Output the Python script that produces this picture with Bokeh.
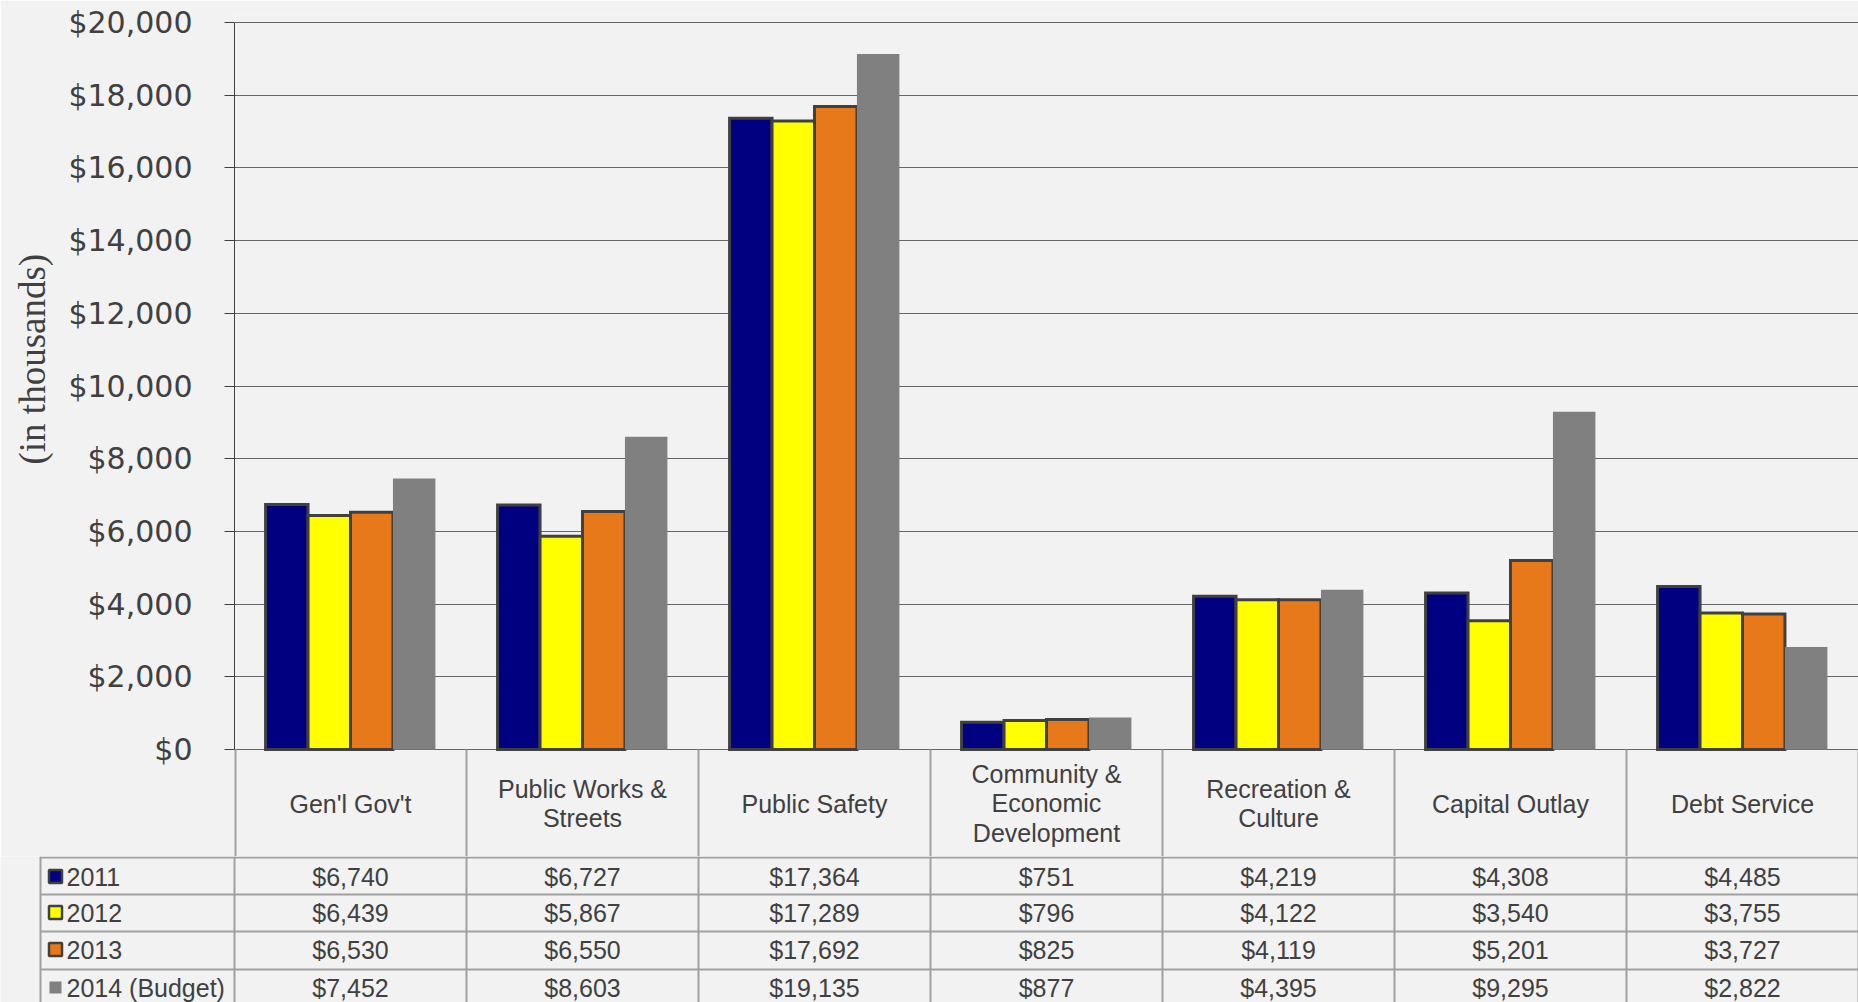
from bokeh.plotting import figure
from bokeh.layouts import column
from bokeh.models import ColumnDataSource, FactorRange, Range1d, FixedTicker, NumeralTickFormatter, Title
from bokeh.transform import dodge
from bokeh.core.properties import value
from bokeh.embed import file_html
from bokeh.resources import INLINE

# ---------------- data ----------------
categories = ["Gen'l Gov't", "Public Works & Streets", "Public Safety",
              "Community & Economic Development", "Recreation & Culture",
              "Capital Outlay", "Debt Service"]
header_labels = ["Gen'l Gov't", "Public Works &\nStreets", "Public Safety",
                 "Community &\nEconomic\nDevelopment", "Recreation &\nCulture",
                 "Capital Outlay", "Debt Service"]
series_names = ["2011", "2012", "2013", "2014 (Budget)"]
v2011 = [6740, 6727, 17364, 751, 4219, 4308, 4485]
v2012 = [6439, 5867, 17289, 796, 4122, 3540, 3755]
v2013 = [6530, 6550, 17692, 825, 4119, 5201, 3727]
v2014 = [7452, 8603, 19135, 877, 4395, 9295, 2822]
y_ticks = list(range(0, 20001, 2000))

series = [v2011, v2012, v2013, v2014]

# ---------------- style / layout ----------------
BG = "#F2F2F2"
TXT = "#404040"
LINE = "#A0A0A0"
COLORS = ["#000080", "#FFFF00", "#E8791A", "#808080"]
FONT = value("Liberation Sans")
FS = "25px"
W = 1858
HA = 856              # chart + header row of the table
HB = 1002 - HA        # data rows of the table
AXIS_X = 234          # x of the value axis
RIGHT_X = 1858        # right edge
ZERO_Y = 749          # y of $0
TOP_Y = 22            # y of $20,000
HEADER_Y = 803        # centre of header row
BORDER_TOP = 14
px_per_unit = (ZERO_Y - TOP_Y) / 20000.0
y_start = -(HA - ZERO_Y) / px_per_unit
y_end = 20000 + (TOP_Y - BORDER_TOP) / px_per_unit
header_data_y = -(HEADER_Y - ZERO_Y) / px_per_unit

# ---------------- chart ----------------
src = ColumnDataSource(dict(cat=categories, label=header_labels,
                            s0=v2011, s1=v2012, s2=v2013, s3=v2014,
                            hy=[header_data_y] * len(categories),
                            y0=[0] * len(categories), y1=[y_start] * len(categories)))

pA = figure(width=W, height=HA, x_range=FactorRange(factors=categories),
            y_range=Range1d(y_start, y_end), output_backend="svg",
            toolbar_location=None, x_axis_location=None,
            min_border_left=AXIS_X, min_border_right=0,
            min_border_top=BORDER_TOP, min_border_bottom=0,
            background_fill_color=BG, border_fill_color=BG,
            outline_line_color=None)
pA.frame_align = False
pA.xgrid.visible = False
pA.ygrid.ticker = FixedTicker(ticks=y_ticks)
pA.ygrid.grid_line_color = "#666666"
pA.ygrid.grid_line_width = 1
pA.ygrid.bounds = (0, 20000)

ax = pA.yaxis[0]
ax.ticker = FixedTicker(ticks=y_ticks)
ax.formatter = NumeralTickFormatter(format="$0,0")
ax.bounds = (0, 20000)
ax.major_tick_out = 10
ax.major_tick_in = 0
ax.minor_tick_out = 0
ax.minor_tick_in = 0
ax.major_tick_line_color = TXT
ax.axis_line_color = TXT
ax.major_label_text_font = "DejaVu Sans"
ax.major_label_text_font_size = "30px"
ax.major_label_text_color = TXT
ax.major_label_standoff = 32

ytitle = Title(text="(in thousands)", align="left", offset=HA - 464,
               vertical_align="top", standoff=22,
               text_font="Liberation Serif", text_font_size="37px",
               text_font_style="normal", text_color=TXT)
pA.add_layout(ytitle, "left")

bw = 0.183
for k in range(4):
    pA.vbar(x=dodge("cat", (k - 1.5) * bw, range=pA.x_range), top="s%d" % k, bottom=0,
            width=bw, source=src, fill_color=COLORS[k],
            line_color=(TXT if k < 3 else None), line_width=3, line_join="miter")

# header row of the table (column borders + category names)
pA.segment(x0=dodge("cat", 0.5, range=pA.x_range), x1=dodge("cat", 0.5, range=pA.x_range),
           y0="y0", y1="y1", source=src, line_color=LINE, line_width=2)
first_src = ColumnDataSource(dict(cat=categories[:1], y0=[0], y1=[y_start]))
pA.segment(x0=dodge("cat", -0.5, range=pA.x_range), x1=dodge("cat", -0.5, range=pA.x_range),
           y0="y0", y1="y1", source=first_src, line_color=LINE, line_width=4)
pA.text(x="cat", y="hy", text="label", source=src,
        text_font=FONT, text_font_size=FS, text_color=TXT,
        text_align="center", text_baseline="middle", text_line_height=1.04)

# ---------------- data rows of the table ----------------
pB = figure(width=W, height=HB, x_range=Range1d(0, RIGHT_X),
            y_range=Range1d(HA + HB, HA),
            output_backend="svg", toolbar_location=None,
            x_axis_location=None, y_axis_location=None,
            min_border_left=0, min_border_right=0, min_border_top=0, min_border_bottom=0,
            background_fill_color=BG, border_fill_color=BG, outline_line_color=None)
pB.frame_align = False
pB.grid.visible = False

ncat = len(categories)
colw = (RIGHT_X - AXIS_X) / ncat
centers = [AXIS_X + (i + 0.5) * colw for i in range(ncat)]
TABLE_LEFT = 40
row_lines = [857, 894, 931, 969, 1006]
row_y = [876, 912, 949, 987]
y_top_B = HA
y_bot_B = HA + HB

vx = [TABLE_LEFT] + [AXIS_X + k * colw for k in range(ncat + 1)]
pB.segment(x0=vx, x1=vx, y0=[y_top_B] * len(vx), y1=[y_bot_B] * len(vx),
           line_color=LINE, line_width=2)
pB.segment(x0=[TABLE_LEFT] * len(row_lines), x1=[RIGHT_X] * len(row_lines),
           y0=row_lines, y1=row_lines, line_color=LINE, line_width=2)

# legend keys + row labels
pB.scatter(x=[55] * 3, y=row_y[:3], marker="square", size=13,
           fill_color=COLORS[:3], line_color=TXT, line_width=2.5)
pB.scatter(x=[55], y=row_y[3:], marker="square", size=12,
           fill_color=COLORS[3], line_color=None)
pB.text(x=[66] * 4, y=row_y, text=series_names,
        text_font=FONT, text_font_size=FS,
        text_color=TXT, text_align="left", text_baseline="middle")

# values
tx, ty, tt = [], [], []
for k, vals in enumerate(series):
    for i, v in enumerate(vals):
        tx.append(centers[i])
        ty.append(row_y[k])
        tt.append("${:,}".format(v))
pB.text(x=tx, y=ty, text=tt,
        text_font=FONT, text_font_size=FS,
        text_color=TXT, text_align="center", text_baseline="middle")

layout = column(pA, pB)
open("out.html", "w").write(file_html(layout, INLINE))
